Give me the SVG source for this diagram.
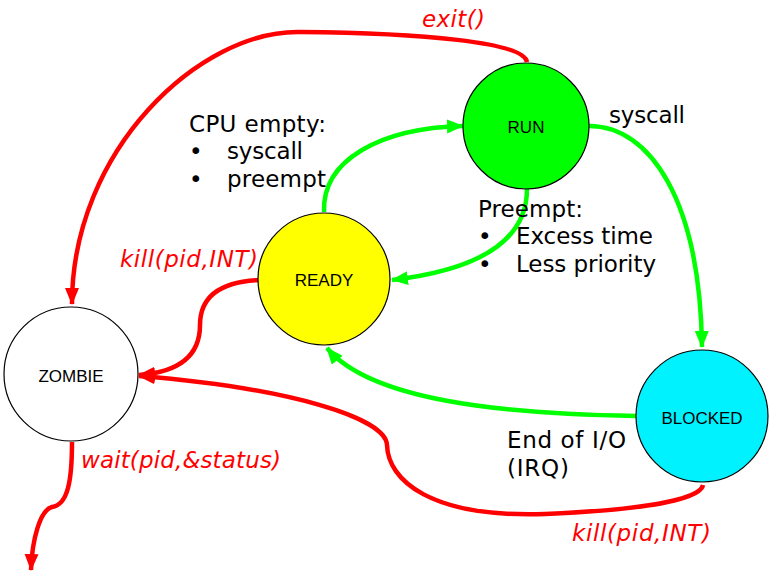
<svg xmlns="http://www.w3.org/2000/svg" width="773" height="579" viewBox="0 0 773 579">
<style>
.node{stroke:#000;stroke-width:1.2}
.nl{font-family:"Liberation Sans",Arial,sans-serif;font-size:17px;fill:#000;text-anchor:middle}
.lbl{font-family:"DejaVu Sans",Verdana,sans-serif;font-size:23px;fill:#000}
.rl{font-family:"DejaVu Sans",Verdana,sans-serif;font-size:23px;font-style:italic;fill:#ff0000}
.r{fill:none;stroke:#ff0000;stroke-width:4.5;marker-end:url(#ar)}
.g{fill:none;stroke:#00ff00;stroke-width:4.5;marker-end:url(#ag)}
</style>
<defs>
<marker id="ar" markerUnits="userSpaceOnUse" markerWidth="18" markerHeight="16" refX="16" refY="7" orient="auto"><path d="M0,0 L17,7 L0,14 z" fill="#ff0000"/></marker>
<marker id="ag" markerUnits="userSpaceOnUse" markerWidth="18" markerHeight="16" refX="16" refY="7" orient="auto"><path d="M0,0 L17,7 L0,14 z" fill="#00ff00"/></marker>
</defs>
<rect width="773" height="579" fill="#fff"/>
<g id="connectors">
<path class="r" d="M527,62 C524,42 420,33 300,32 C200,30 72,150 72,304"/>
<path class="g" d="M324,212 C322,160 380,128 463,126"/>
<path class="g" d="M527,189 C527,250 460,272 392,280"/>
<path class="g" d="M589,126 C650,126 700,200 702,347"/>
<path class="g" d="M636,416 C500,414 370,400 327,348"/>
<path class="r" d="M259,280 C215,282 200,300 200,325 C200,355 180,372 139,375"/>
<path class="r" d="M703,485 C700,500 640,510 545,514 C430,518 388,480 387,445 C386,418 290,388 139,376"/>
<path class="r" d="M72,442 C72,480 68,505 52,507 C40,510 32,540 31,570"/>
</g>
<g id="run"><circle class="node" cx="526" cy="126" r="63" fill="#00ff00"/><text class="nl" x="526" y="133">RUN</text></g>
<g id="ready"><circle class="node" cx="324" cy="279" r="66" fill="#ffff00"/><text class="nl" x="324" y="286">READY</text></g>
<g id="zombie"><circle class="node" cx="71" cy="374" r="67" fill="#fff"/><text class="nl" x="71" y="382">ZOMBIE</text></g>
<g id="blocked"><circle class="node" cx="702" cy="416" r="66" fill="#00f2ff"/><text class="nl" x="702" y="424">BLOCKED</text></g>
<g id="labels">
<text class="rl" x="422" y="27" textLength="63">exit()</text>
<text class="lbl" x="189" y="132" textLength="137">CPU empty:</text>
<text class="lbl" x="189" y="159">•</text><text class="lbl" x="227" y="159" textLength="76">syscall</text>
<text class="lbl" x="189" y="187">•</text><text class="lbl" x="227" y="187" textLength="99">preempt</text>
<text class="lbl" x="609" y="123" textLength="76">syscall</text>
<text class="lbl" x="478" y="217" textLength="105">Preempt:</text>
<text class="lbl" x="478" y="244">•</text><text class="lbl" x="516" y="244" textLength="137">Excess time</text>
<text class="lbl" x="478" y="272">•</text><text class="lbl" x="516" y="272" textLength="140">Less priority</text>
<text class="rl" x="120" y="267" textLength="138">kill(pid,INT)</text>
<text class="rl" x="81" y="468" textLength="200">wait(pid,&amp;status)</text>
<text class="lbl" x="507" y="448" textLength="119">End of I/O</text>
<text class="lbl" x="507" y="476" textLength="62">(IRQ)</text>
<text class="rl" x="572" y="541" textLength="139">kill(pid,INT)</text>
</g>
</svg>
